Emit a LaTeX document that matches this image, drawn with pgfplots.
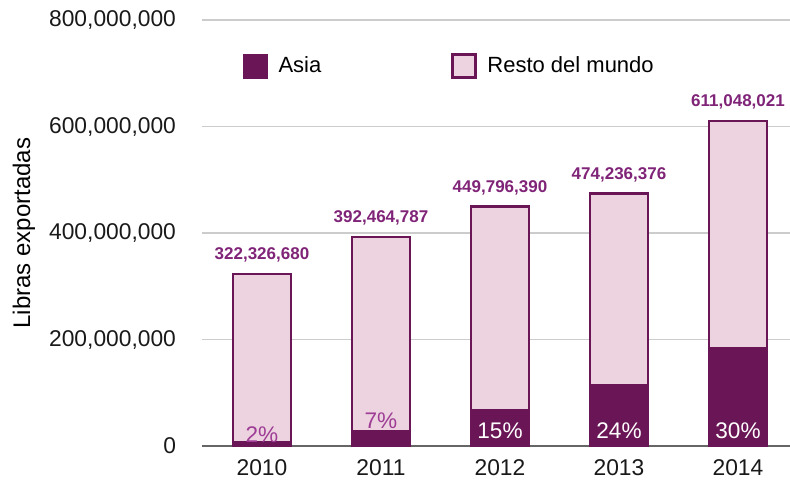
\documentclass[border=0pt]{standalone}
\usepackage{fontspec}
\setmainfont{Liberation Sans}
\usepackage{pgfplots}
\usepackage{pgfplotstable}
\pgfplotsset{compat=1.18}

\definecolor{asia}{RGB}{106,22,86}
\definecolor{resto}{RGB}{236,211,223}
\definecolor{lbl}{RGB}{128,36,120}
\definecolor{pct}{RGB}{158,60,150}

\pgfplotsset{swatch legend/.style={legend image code/.code={%
  \path[draw=none, fill=none] (0pt,0pt) -- (15.5pt,0pt);
  \draw[##1] (0pt,-5.75pt) rectangle (11.5pt,5.75pt);}}}

% exported pounds per year; asia = share of total
\pgfplotstableread{
x total     asia      label
0 322326680 6446534   322,326,680
1 392464787 27472535  392,464,787
2 449796390 67469459  449,796,390
3 474236376 113816730 474,236,376
4 611048021 183314406 611,048,021
}\exports

\begin{document}
\begin{tikzpicture}
\path[use as bounding box] (-101pt,-16.5pt) rectangle (294pt,223pt);
\begin{axis}[
  at={(0,0)}, anchor=south west,
  scale only axis, width=294pt, height=213pt,
  ybar, bar width=29pt,
  xmin=-0.504, xmax=4.437, ymin=0, ymax=800000000,
  xtick={0,1,2,3,4}, xticklabels={2010,2011,2012,2013,2014},
  ytick={0,200000000,400000000,600000000,800000000},
  scaled y ticks=false,
  yticklabel style={/pgf/number format/fixed, /pgf/number format/1000 sep={,},
    /pgf/number format/assume math mode=true, xshift=-9.5pt},
  xticklabel style={yshift=-3pt},
  tick label style={font=\fontsize{11.4}{13}\selectfont, text=black!90},
  major tick length=0pt,
  axis x line=bottom, axis y line=left,
  y axis line style={draw=none},
  x axis line style={-, draw=black!60, line width=1.3pt},
  ymajorgrids, grid style={black!20, line width=0.8pt},
  ylabel={Libras exportadas},
  every axis y label/.style={at={(axis description cs:0,0.5)}, xshift=-89pt,
    rotate=90, anchor=center, font=\fontsize{12}{14}\selectfont},
  legend style={at={(axis description cs:0.058,0.892)}, anchor=west,
    draw=none, fill=none, legend columns=2, font=\fontsize{11}{13}\selectfont,
    /tikz/every even column/.append style={column sep=63pt}},
  legend cell align=left,
]
\addlegendimage{swatch legend, fill=asia, draw=asia, line width=1pt}
\addlegendentry{Asia}
\addplot[swatch legend, fill=resto, draw=asia, line width=1.1pt, bar shift=0pt,
  nodes near coords, point meta=explicit symbolic,
  every node near coord/.append style={font=\bfseries\fontsize{8.5}{10}\selectfont,
    text=lbl, yshift=2pt}]
  table[x=x, y=total, meta=label] {\exports};
\addlegendentry{Resto del mundo}
\addplot[forget plot, fill=asia, draw=asia, line width=1.1pt, bar shift=0pt]
  table[x=x, y=asia] {\exports};
% percentage labels
\addplot[forget plot, sharp plot, draw=none, bar shift=0pt, nodes near coords,
  point meta=explicit symbolic, nodes near coords align=center,
  every node near coord/.append style={anchor=center, text=pct,
    font=\fontsize{11.3}{13}\selectfont}]
  coordinates {(0,21600000) [2\%] (1,47000000) [7\%]};
\addplot[forget plot, sharp plot, draw=none, bar shift=0pt, nodes near coords,
  point meta=explicit symbolic, nodes near coords align=center,
  every node near coord/.append style={anchor=center, text=white,
    font=\fontsize{11.3}{13}\selectfont}]
  coordinates {(2,28200000) [15\%] (3,28200000) [24\%] (4,28200000) [30\%]};
\end{axis}
\end{tikzpicture}
\end{document}
